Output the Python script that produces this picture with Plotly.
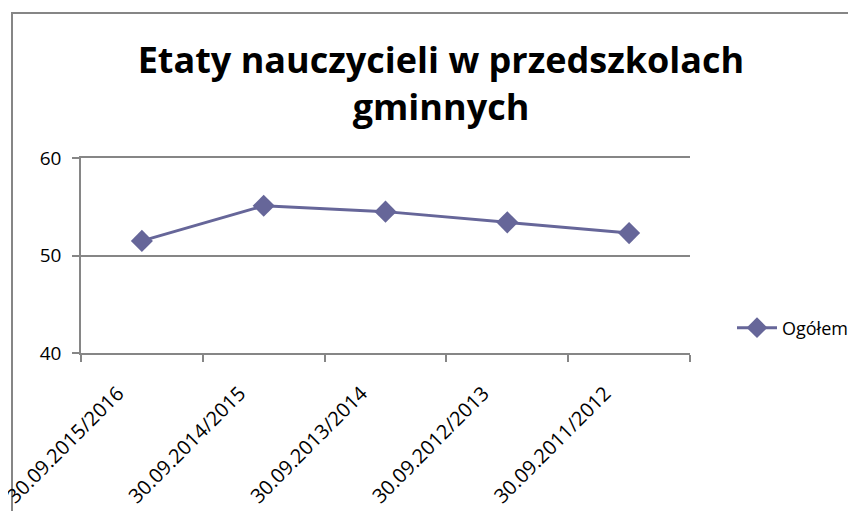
import plotly.graph_objects as go

categories = ["30.09.2015/2016", "30.09.2014/2015", "30.09.2013/2014",
              "30.09.2012/2013", "30.09.2011/2012"]
values = [51.5, 55.1, 54.5, 53.4, 52.3]
y_ticks = [40, 50, 60]
series_name = "Ogółem"
title_text = "Etaty nauczycieli w przedszkolach<br>gminnych"

W, H = 856, 511
OFF = 8  # page body margin offset
# plot area in screen pixels (reference): x 81..690, y 158..353
SL, SR, ST, SB = 81, 690, 158, 353
L, T = SL - OFF, ST - OFF
R, B = W - (SR - OFF), H - (SB - OFF)
pw, ph = W - L - R, H - T - B

def px_x(sx):
    return (sx - OFF - L) / pw

def px_y(sy):
    return (H - B - (sy - OFF)) / ph

line_color = "#666699"
axis_gray = "#868686"
font_family = "Open Sans, Liberation Sans, sans-serif"

fig = go.Figure()
fig.add_trace(go.Scatter(
    x=categories, y=values, mode="lines+markers", name=series_name,
    line=dict(color=line_color, width=3),
    marker=dict(symbol="diamond", size=17, color=line_color),
))

fig.update_layout(
    width=W, height=H,
    margin=dict(l=L, r=R, t=T, b=B, autoexpand=False),
    paper_bgcolor="white", plot_bgcolor="white",
    font=dict(family=font_family, color="black", size=18),
    title=dict(text=title_text, x=(441 - OFF) / W, xanchor="center",
               y=1 - 65 / H, yanchor="top",
               font=dict(family=font_family, size=36, color="black", weight="bold")),
    showlegend=True,
    legend=dict(x=px_x(732), y=px_y(328), xanchor="left", yanchor="middle",
                font=dict(size=18), bgcolor="rgba(0,0,0,0)", itemwidth=40),
    shapes=[dict(type="rect", xref="paper", yref="paper",
                 x0=px_x(12), x1=px_x(W + 40), y0=px_y(H + 40), y1=px_y(13),
                 line=dict(color=axis_gray, width=2), fillcolor="rgba(0,0,0,0)",
                 layer="below")],
)

fig.update_xaxes(
    type="category", tickson="boundaries", ticks="outside", ticklen=7,
    tickcolor=axis_gray, tickwidth=1.5, showline=True, linecolor=axis_gray,
    linewidth=1.5, mirror=True, showgrid=False, tickangle=-45,
    ticklabelshift=-24, ticklabelstandoff=19,
    tickfont=dict(size=20, family=font_family), range=[-0.5, 4.5],
)
fig.update_yaxes(
    range=[40, 60], tickvals=y_ticks, ticks="outside", ticklen=7,
    tickcolor=axis_gray, tickwidth=1.5, showline=True, linecolor=axis_gray,
    linewidth=1.5, showgrid=True, gridcolor=axis_gray, gridwidth=1.5,
    zeroline=False, ticklabelstandoff=7,
    tickfont=dict(size=19, family=font_family),
)

fig.write_html("out.html")
